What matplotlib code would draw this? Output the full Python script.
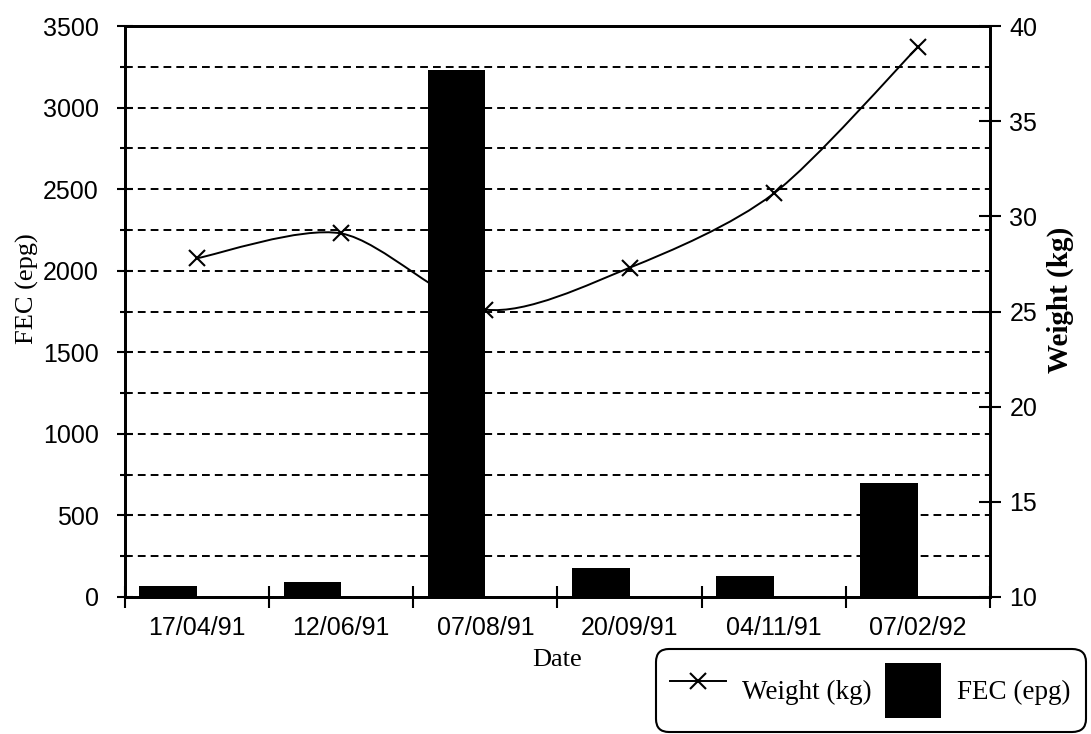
import numpy as np
import matplotlib
matplotlib.use("Agg")
from matplotlib import pyplot as plt
from matplotlib.path import Path
from matplotlib.patches import PathPatch, Patch
from matplotlib.lines import Line2D
from matplotlib.ticker import MultipleLocator, FixedLocator

dates = ["17/04/91", "12/06/91", "07/08/91", "20/09/91", "04/11/91", "07/02/92"]
fec = [70, 90, 3230, 180, 130, 700]          # FEC (epg), left axis
weight = [27.8, 29.1, 25.1, 27.3, 31.2, 38.9]  # Weight (kg), right axis

SERIF = "Liberation Serif"
SANS = "Liberation Sans"


def smoothPath(xs, ys, k=7.0):
    # excel style smoothed line, catmull-rom turned into bezier segments
    pts = np.column_stack([xs, ys]).astype(float)
    verts = [pts[0]]
    codes = [Path.MOVETO]
    for i in range(len(pts) - 1):
        p0 = pts[max(i - 1, 0)]
        p1 = pts[i]
        p2 = pts[i + 1]
        p3 = pts[min(i + 2, len(pts) - 1)]
        verts += [p1 + (p2 - p0) / k, p2 - (p3 - p1) / k, p2]
        codes += [Path.CURVE4] * 3
    return Path(verts, codes)


fig = plt.figure(figsize=(10.91, 7.34), dpi=100)
ax = fig.add_axes([125 / 1091, 1 - 597 / 734, 865 / 1091, 571 / 734])
ax2 = ax.twinx()
ax.set_zorder(ax2.get_zorder() + 1)
ax.patch.set_visible(False)

x = np.arange(len(dates))

# bars sit left of the category centre, right edge on the centre
ax.bar(x, fec, width=-0.4, align="edge", color="black", zorder=3)

ax2.add_patch(PathPatch(smoothPath(x, weight), facecolor="none",
                        edgecolor="black", lw=1.4, transform=ax2.transData))
ax2.plot(x, weight, linestyle="none", marker="x", ms=12, mew=1.5, color="black")

ax.set_xlim(-0.5, len(dates) - 0.5)
ax.set_ylim(0, 3500)
ax2.set_ylim(10, 40)

ax.set_xticks(x)
ax.set_xticklabels(dates, fontfamily=SANS, fontsize=18)
ax.xaxis.set_minor_locator(FixedLocator(np.arange(-0.5, len(dates), 1.0)))
ax.tick_params(axis="x", which="major", length=0, pad=14)
ax.tick_params(axis="x", which="minor", direction="inout", length=16, width=1.5)

ax.yaxis.set_major_locator(MultipleLocator(500))
ax.yaxis.set_minor_locator(MultipleLocator(250))
ax.tick_params(axis="y", which="major", direction="inout", length=12, width=1.5,
               labelsize=18, pad=13)
ax.tick_params(axis="y", which="minor", direction="inout", length=7, width=1.5)
for lab in ax.get_yticklabels():
    lab.set_fontfamily(SANS)

ax2.yaxis.set_major_locator(MultipleLocator(5))
ax2.tick_params(axis="y", which="major", direction="inout", length=16, width=1.5,
                labelsize=18, pad=6)
for lab in ax2.get_yticklabels():
    lab.set_fontfamily(SANS)

ax.grid(True, axis="y", which="both", color="black", lw=1.4,
        linestyle=(0, (4, 2.6)))
ax.set_axisbelow(True)

for a in (ax, ax2):
    for s in a.spines.values():
        s.set_linewidth(2.0)

ax.set_xlabel("Date", fontfamily=SERIF, fontsize=19, labelpad=6)
ax.set_ylabel("FEC (epg)", fontfamily=SERIF, fontsize=19)
ax.yaxis.set_label_coords(-86 / 865, 0.54)
ax2.set_ylabel("Weight (kg)", fontfamily=SERIF, fontsize=21, fontweight="bold")
ax2.yaxis.set_label_coords(1 + 57 / 865, 0.52)

handles = [Line2D([], [], color="black", lw=1.4, marker="x", ms=12, mew=1.5),
           Patch(facecolor="black")]
leg = fig.legend(handles, ["Weight (kg)", "FEC (epg)"], ncol=2, loc="center",
                 bbox_to_anchor=((652 + 1089) / 2 / 1091, 1 - (648 + 733) / 2 / 734),
                 prop={"family": SERIF, "size": 19.5}, frameon=True, fancybox=True,
                 framealpha=1, edgecolor="black", handlelength=2.05,
                 handleheight=2.7, handletextpad=0.6, columnspacing=0.5,
                 borderpad=0.55)
leg.get_frame().set_linewidth(1.5)
leg.get_frame().set_boxstyle("round,pad=0,rounding_size=0.5")

fig.savefig("out.png", dpi=100)
